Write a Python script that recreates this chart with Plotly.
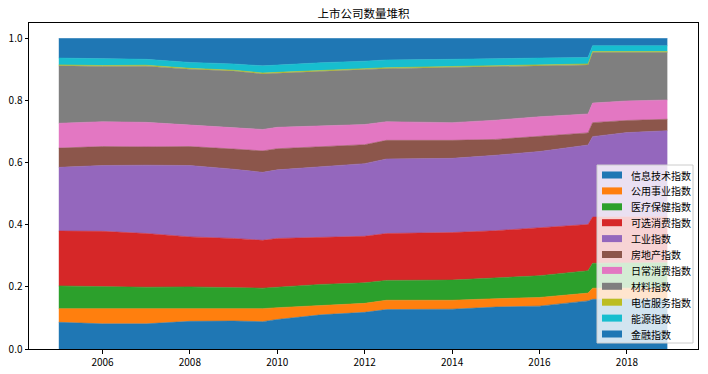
import plotly.graph_objects as go

# ---- data (shares of listed companies per sector) ----
dates = ["2005-01-01", "2006-01-01", "2007-01-01", "2008-01-01", "2009-01-01",
         "2009-09-01", "2010-01-01", "2011-01-01", "2012-01-01", "2012-07-01",
         "2014-01-01", "2015-01-01", "2016-01-01", "2017-02-10", "2017-03-20",
         "2018-01-01", "2018-12-05"]

it_index       = [.086, .081, .081, .089, .090, .088, .095, .110, .118, .127, .128, .135, .138, .155, .160, .160, .161]
utilities      = [.044, .049, .049, .043, .041, .042, .038, .031, .029, .030, .029, .027, .028, .025, .036, .036, .036]
health_care    = [.073, .071, .069, .068, .067, .066, .066, .067, .066, .064, .065, .068, .070, .072, .080, .081, .081]
cons_disc      = [.177, .178, .173, .161, .158, .154, .157, .152, .150, .151, .153, .151, .154, .149, .149, .148, .148]
industrials    = [.205, .212, .220, .230, .223, .219, .221, .227, .234, .240, .239, .243, .246, .256, .259, .272, .277]
real_estate    = [.062, .061, .059, .061, .065, .069, .068, .064, .061, .060, .058, .051, .048, .039, .045, .039, .037]
cons_staples   = [.080, .080, .079, .069, .069, .069, .069, .067, .065, .060, .057, .062, .064, .061, .063, .063, .062]
materials      = [.185, .178, .181, .180, .182, .179, .174, .177, .177, .171, .178, .173, .164, .158, .163, .156, .153]
telecom        = [.003, .003, .003, .003, .003, .003, .003, .003, .003, .003, .003, .003, .003, .003, .003, .003, .003]
energy         = [.022, .021, .019, .019, .020, .023, .024, .024, .024, .025, .023, .021, .022, .021, .019, .019, .019]
financials     = [.063, .066, .067, .077, .082, .088, .085, .078, .073, .069, .067, .066, .063, .061, .023, .023, .023]

series_names = ["信息技术指数", "公用事业指数", "医疗保健指数", "可选消费指数", "工业指数",
                "房地产指数", "日常消费指数", "材料指数", "电信服务指数", "能源指数", "金融指数"]
series_values = [it_index, utilities, health_care, cons_disc, industrials, real_estate,
                 cons_staples, materials, telecom, energy, financials]

tick_years = ["2006", "2008", "2010", "2012", "2014", "2016", "2018"]

colors = ["#1f77b4", "#ff7f0e", "#2ca02c", "#d62728", "#9467bd", "#8c564b",
          "#e377c2", "#7f7f7f", "#bcbd22", "#17becf", "#1f77b4"]

font_family = "Noto Sans CJK SC, DejaVu Sans, sans-serif"

W, H = 708, 374
ML, MR, MT, MB = 29, 10, 23, 25
PW, PH = W - ML - MR, H - MT - MB


def fx(px):  # pixel -> paper x (plot area)
    return (px - ML) / PW


def fy(py):  # pixel -> paper y (plot area)
    return (H - MB - py) / PH


fig = go.Figure()
for name, vals, col in zip(series_names, series_values, colors):
    fig.add_trace(go.Scatter(
        x=dates, y=vals, name=name, mode="lines",
        stackgroup="one", line=dict(color=col, width=0.6),
        fillcolor=col, showlegend=False,
    ))

# legend box drawn in the style of the reference (matplotlib-like)
shapes = []
annotations = []
box_l, box_r, box_t, box_b = 597, 693, 165, 343
shapes.append(dict(type="rect", xref="paper", yref="paper",
                   x0=fx(box_l), x1=fx(box_r), y0=fy(box_b), y1=fy(box_t),
                   fillcolor="rgba(255,255,255,0.8)", line=dict(color="#cccccc", width=1),
                   layer="above"))
row0, row_gap = 175, 15.9
for i, (name, col) in enumerate(zip(series_names, colors)):
    cy = row0 + i * row_gap
    shapes.append(dict(type="rect", xref="paper", yref="paper",
                       x0=fx(602), x1=fx(622), y0=fy(cy + 3.5), y1=fy(cy - 3.5),
                       fillcolor=col, line=dict(width=0), layer="above"))
    annotations.append(dict(text=name, xref="paper", yref="paper",
                            x=fx(629), y=fy(cy), xanchor="left", yanchor="middle",
                            showarrow=False, font=dict(size=10, color="black")))

fig.update_layout(
    width=W, height=H,
    margin=dict(l=ML, r=MR, t=MT, b=MB, autoexpand=False),
    paper_bgcolor="white", plot_bgcolor="white",
    font=dict(family=font_family, size=10, color="black"),
    title=dict(text="上市公司数量堆积", x=0.5, xref="paper", xanchor="center",
               y=1 - 14 / H, yanchor="middle", font=dict(size=11.5, color="black")),
    showlegend=False,
    shapes=shapes,
    annotations=annotations,
)

fig.update_xaxes(
    type="date", range=["2004-04-27", "2019-08-18"],
    tickvals=[y + "-01-01" for y in tick_years], ticktext=tick_years,
    ticks="outside", ticklen=3.5, tickcolor="black", tickwidth=1,
    showline=True, linecolor="black", linewidth=1, mirror=True,
    showgrid=False, zeroline=False, tickfont=dict(size=10), automargin=False,
)
fig.update_yaxes(
    range=[0, 1.05], tickvals=[0, 0.2, 0.4, 0.6, 0.8, 1.0], tickformat=".1f",
    ticks="outside", ticklen=3.5, tickcolor="black", tickwidth=1,
    showline=True, linecolor="black", linewidth=1, mirror=True,
    showgrid=False, zeroline=False, tickfont=dict(size=10), automargin=False,
)

fig.write_html("out.html",
               config={"displayModeBar": False},
               post_script="document.body.style.margin='0px';document.body.style.overflow='hidden';")
